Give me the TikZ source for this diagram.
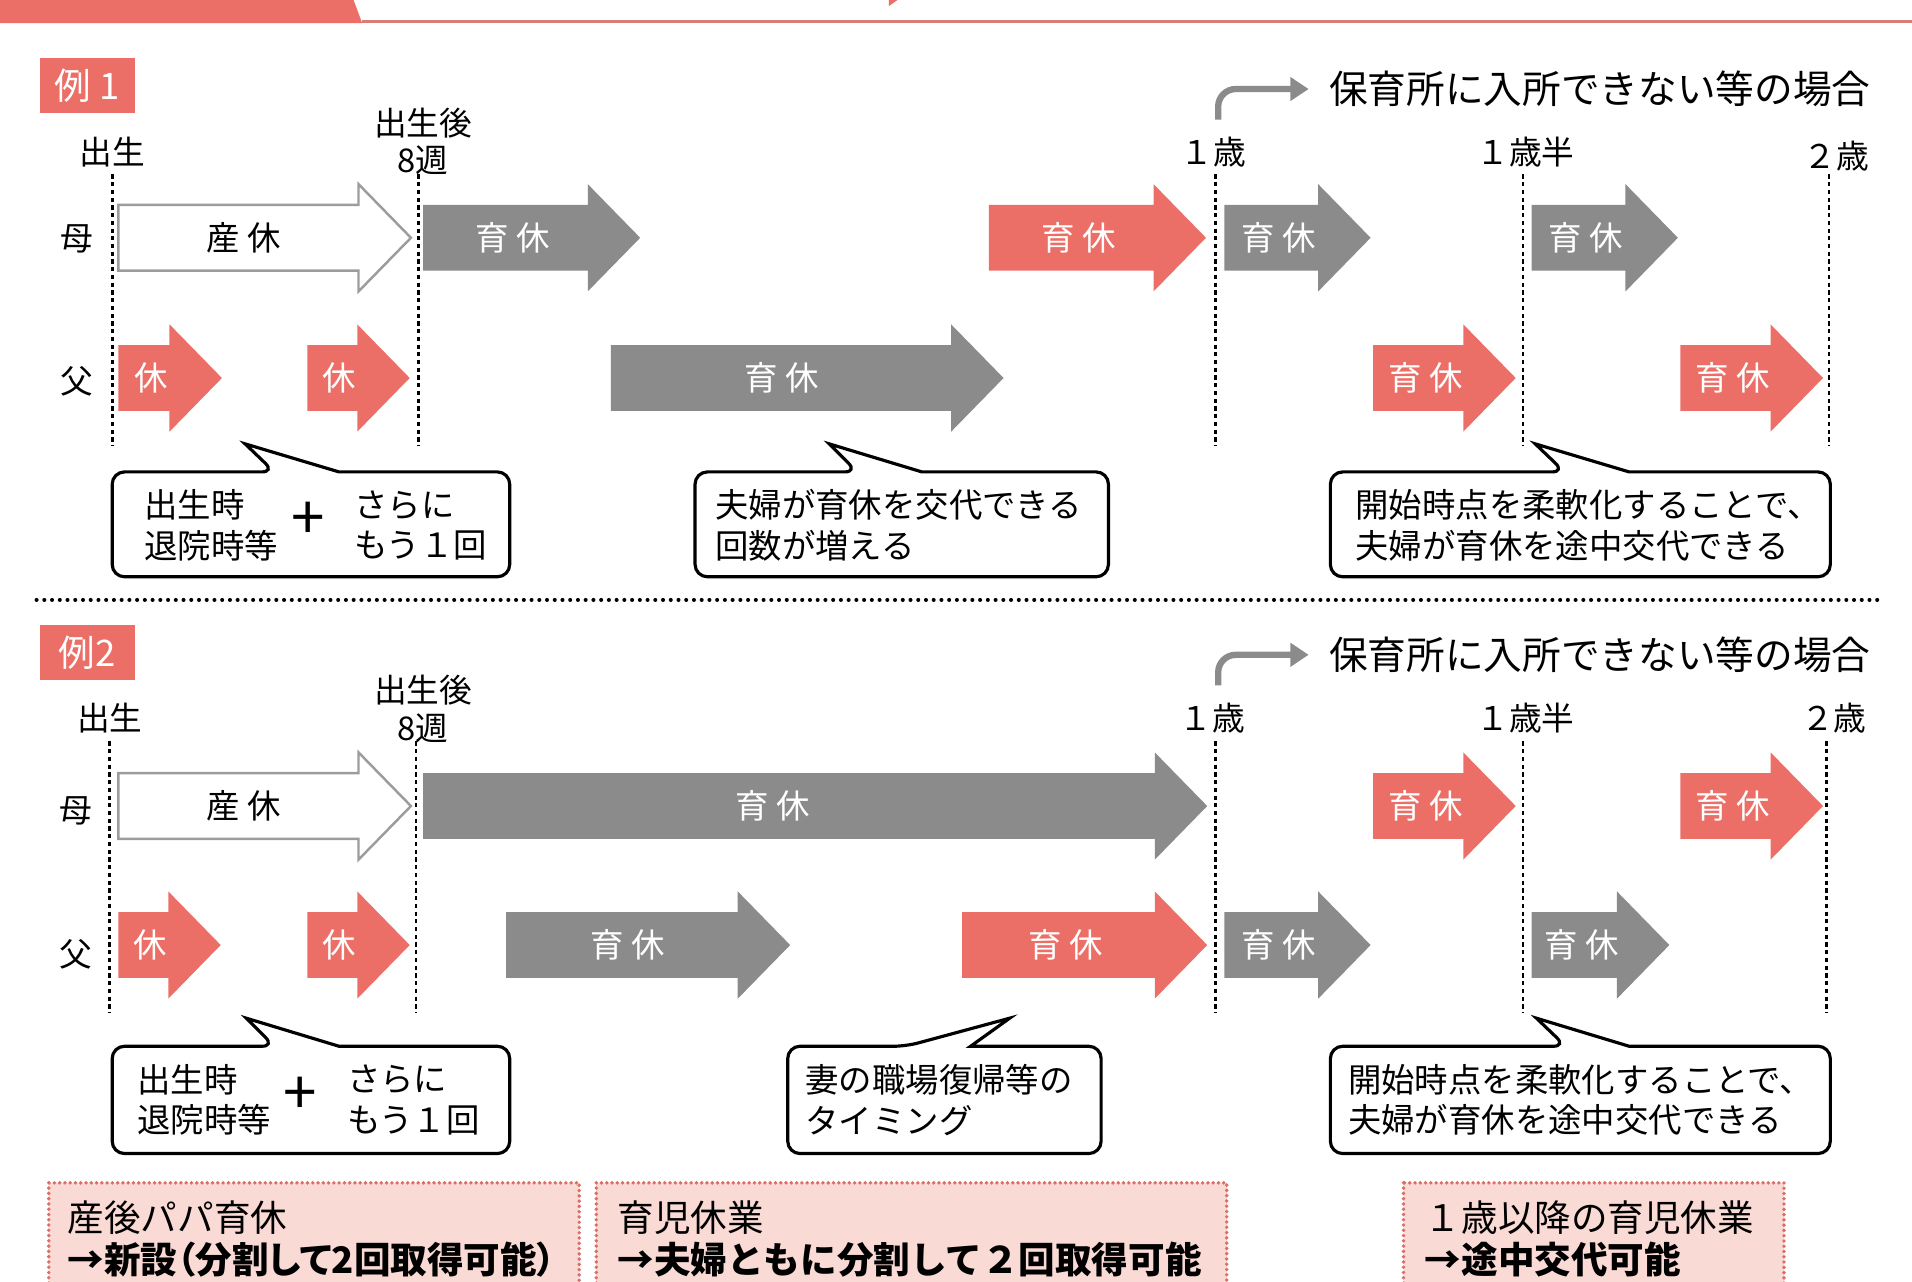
\documentclass[tikz,border=0pt]{standalone}
\usepackage{fontspec}
\setmainfont{Noto Sans CJK JP}
\newfontfamily\jpprop[RawFeature=+palt]{Noto Sans CJK JP}
\usetikzlibrary{arrows.meta}
\definecolor{leave}{HTML}{EB6F67}
\definecolor{grayfill}{HTML}{8B8B8B}
\definecolor{outline}{HTML}{9C9C9C}
\definecolor{pinkbox}{HTML}{FADAD5}
\definecolor{dotred}{HTML}{DC6E66}
\definecolor{rulered}{HTML}{D97C75}

% block arrow: style, name, left x, tip x, centre y, text
\newcommand{\blockarrow}[6]{%
  \fill[#1] (#3,#5-27) -- (#4-43,#5-27) -- (#4-43,#5-44) -- (#4,#5)
    -- (#4-43,#5+44) -- (#4-43,#5+27) -- (#3,#5+27) -- cycle;
  \node[arrtext] (#2) at ({(#3+#4-43)/2+6-0.043*max(0,#4-#3-200)},#5) {#6};
}

\begin{document}
\begin{tikzpicture}[
  x=0.012194cm, y=-0.012194cm,
  redarr/.style={fill=leave},
  greyarr/.style={fill=grayfill},
  openarr/.style={fill=white, draw=outline, line width=0.7pt},
  arrtext/.style={text=white, font=\fontsize{9.5}{11}\selectfont, inner sep=0pt},
  lbl/.style={font=\fontsize{9.3}{10.8}\selectfont, inner sep=0pt},
  hoiku/.style={font=\fontsize{11}{13}\selectfont},
  tick/.style={line width=0.75pt, dash pattern=on 1.2pt off 1pt},
  bentarr/.style={draw=grayfill, line width=1.8pt, rounded corners=5pt,
               -{Triangle[length=5.2pt,width=6.5pt]}},
  callout/.style={draw, fill=white, line width=0.9pt},
  ctext/.style={font=\fontsize{9.5}{11.6}\selectfont, align=left, anchor=west, inner sep=0pt},
  plus/.style={font=\fontsize{9.5}{9.5}\selectfont, inner sep=0pt, scale=1.8},
  exbox/.style={fill=leave, text=white, font=\fontsize{10.4}{12}\selectfont,
                minimum width=27.1pt, minimum height=15.6pt, inner sep=0pt, anchor=north west},
  sep/.style={line width=1.15pt, dash pattern=on 0pt off 2.2pt, line cap=round},
  notebox/.style={fill=pinkbox, draw=dotred, line width=1.1pt,
                  dash pattern=on 0pt off 1.5pt, line cap=round},
  ntext/.style={font=\fontsize{10.4}{11.8}\selectfont, align=left, anchor=west, inner sep=0pt},
]
  \useasboundingbox (0,0) rectangle (1568,1051.3);

  % header strip (cut off)
  \fill[leave] (0,0) -- (290,0) -- (297,19) -- (0,19) -- cycle;
  \draw[rulered, line width=1pt] (297,17.5) -- (1568,17.5);
  \fill[leave] (729,0) -- (736,0) -- (729,5) -- cycle;

  % ---- example 1 ----
  \node[exbox] (exA) at (32,47) {例 1};
  \node[hoiku] (hoikuA) at (1312,73) {保育所に入所できない等の場合};
  \coordinate (oneA) at (999,98);
  \draw[bentarr] (oneA) |- ([xshift=-2.3pt]hoikuA.west);

  \node[lbl] (birthA) at (92,125) {出生};
  \node[lbl, align=center] (wk8A) at (347,116) {出生後\\8週};
  \node[lbl] (y1A) at (995,125) {１歳};
  \node[lbl] (y15A) at (1251,125) {１歳半};
  \node[lbl] (y2A) at (1506,128) {２歳};

  \draw[tick] (92,143) -- (92,365);
  \draw[tick] (343,143) -- (343,365);
  \draw[tick] (997,143) -- (997,365);
  \draw[tick] (1249,143) -- (1249,365);
  \draw[tick] (1500,143) -- (1500,365);

  \node[lbl] (momA) at (63,196) {母};
  \node[lbl] (dadA) at (63,313) {父};

  \blockarrow{openarr}{sankyuA}{97}{337}{195}{\color{black}産 休}
  \blockarrow{greyarr}{ikuA1}{347}{525}{195}{育 休}
  \blockarrow{redarr}{ikuA2}{811}{989}{195}{育 休}
  \blockarrow{greyarr}{ikuA3}{1004}{1124}{195}{育 休}
  \blockarrow{greyarr}{ikuA4}{1256}{1376}{195}{育 休}
  \blockarrow{redarr}{kyuA1}{97}{182}{310}{休}
  \blockarrow{redarr}{kyuA2}{252}{336}{310}{休}
  \blockarrow{greyarr}{ikuA5}{501}{823}{310}{育 休}
  \blockarrow{redarr}{ikuA6}{1126}{1243}{310}{育 休}
  \blockarrow{redarr}{ikuA7}{1378}{1495}{310}{育 休}

  \draw[callout] (225,387) -- (201,364) -- (278,387) [rounded corners=3.5pt]
    -- (418,387) -- (418,473) -- (92,473) -- (92,387) -- cycle;
  \node[ctext] (birthtimeA) at (118,431) {出生時\\退院時等};
  \node[plus] (plusA) at (253,427) {+};
  \node[ctext] (againA) at (290,431) {さらに\\もう１回};

  \draw[callout] (703,387) -- (680,364) -- (756,387) [rounded corners=3.5pt]
    -- (909,387) -- (909,473) -- (570,473) -- (570,387) -- cycle;
  \node[ctext] (swapA) at (586,431) {夫婦が育休を交代できる\\回数が増える};

  \draw[callout] (1283,387) -- (1259,364) -- (1336,387) [rounded corners=3.5pt]
    -- (1501,387) -- (1501,473) -- (1091,473) -- (1091,387) -- cycle;
  \node[ctext] (flexA) at (1111,431) {開始時点を柔軟化することで、\\夫婦が育休を途中交代できる};

  \draw[sep] (30,492) -- (1543,492);

  % ---- example 2 ----
  \node[exbox] (exB) at (32,512) {例2};
  \node[hoiku] (hoikuB) at (1312,537) {保育所に入所できない等の場合};
  \coordinate (oneB) at (999,562);
  \draw[bentarr] (oneB) |- ([xshift=-2.3pt]hoikuB.west);

  \node[lbl] (birthB) at (90,589) {出生};
  \node[lbl, align=center] (wk8B) at (347,581) {出生後\\8週};
  \node[lbl] (y1B) at (994,589) {１歳};
  \node[lbl] (y15B) at (1251,589) {１歳半};
  \node[lbl] (y2B) at (1504,589) {２歳};

  \draw[tick] (90,608) -- (90,831);
  \draw[tick] (341,608) -- (341,831);
  \draw[tick] (997,608) -- (997,831);
  \draw[tick] (1249,608) -- (1249,831);
  \draw[tick] (1498,608) -- (1498,831);

  \node[lbl] (momB) at (62,665) {母};
  \node[lbl] (dadB) at (62,783) {父};

  \blockarrow{openarr}{sankyuB}{97}{337}{661}{\color{black}産 休}
  \blockarrow{greyarr}{ikuB1}{347}{990}{661}{育 休}
  \blockarrow{redarr}{ikuB2}{1126}{1243}{661}{育 休}
  \blockarrow{redarr}{ikuB3}{1378}{1495}{661}{育 休}
  \blockarrow{redarr}{kyuB1}{97}{181}{775}{休}
  \blockarrow{redarr}{kyuB2}{252}{336}{775}{休}
  \blockarrow{greyarr}{ikuB4}{415}{648}{775}{育 休}
  \blockarrow{redarr}{ikuB5}{789}{990}{775}{育 休}
  \blockarrow{greyarr}{ikuB6}{1004}{1124}{775}{育 休}
  \blockarrow{greyarr}{ikuB7}{1256}{1369}{775}{育 休}

  \draw[callout] (225,858) -- (202,835) -- (278,858) [rounded corners=3.5pt]
    -- (418,858) -- (418,946) -- (92,946) -- (92,858) -- cycle;
  \node[ctext] (birthtimeB) at (112,902) {出生時\\退院時等};
  \node[plus] (plusB) at (246,899) {+};
  \node[ctext] (againB) at (284,902) {さらに\\もう１回};

  \draw[callout] (743,858) -- (828,835) -- (796,858) [rounded corners=3.5pt]
    -- (903,858) -- (903,946) -- (646,946) -- (646,858) -- cycle;
  \node[ctext] (returnB) at (660,902) {妻の職場復帰等の\\タイミング};

  \draw[callout] (1284,858) -- (1260,835) -- (1336,858) [rounded corners=3.5pt]
    -- (1501,858) -- (1501,946) -- (1091,946) -- (1091,858) -- cycle;
  \node[ctext] (flexB) at (1105,902) {開始時点を柔軟化することで、\\夫婦が育休を途中交代できる};

  % summary boxes (cut at the bottom)
  \draw[notebox] (40,970) rectangle (475,1080);
  \draw[notebox] (489,970) rectangle (1006,1080);
  \draw[notebox] (1151,970) rectangle (1463,1080);
  \node[ntext] (papaN) at (55,1016) {産後パパ育休\\{\jpprop\bfseries →新設（分割して2回取得可能）}};
  \node[ntext] (ikujiN) at (506,1016) {育児休業\\{\bfseries →夫婦ともに分割して２回取得可能}};
  \node[ntext] (afterN) at (1168,1016) {１歳以降の育児休業\\{\bfseries →途中交代可能}};
\end{tikzpicture}
\end{document}
